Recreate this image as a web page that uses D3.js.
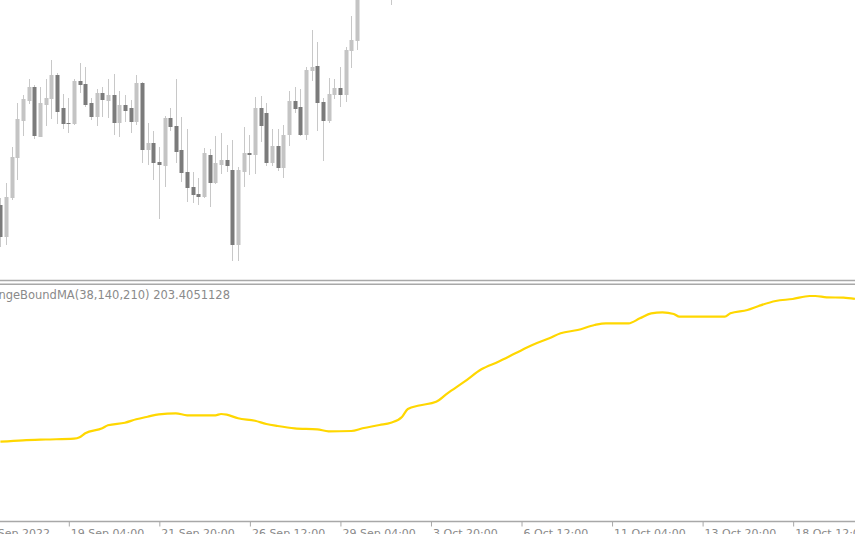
<!DOCTYPE html>
<html>
<head>
<meta charset="utf-8">
<script src="https://cdn.jsdelivr.net/npm/d3@7/dist/d3.min.js"></script>
<style>
  html, body { margin: 0; padding: 0; background: #fff; overflow: hidden; }
  svg { display: block; }
</style>
</head>
<body>
<svg id="chart" width="855" height="534"></svg>
<script>
// ---- data (H4 bars, index 0 = leftmost visible bar) ----
const opens  = [179.5,176.3,180.2,184.2,187.9,189.9,191.3,186.3,189.5,190.1,
                192.5,189.2,187.7,187.6,191.9,191.6,189.7,188.3,190.7,189.9,
                190.5,187.7,189.5,189.2,187.8,191.7,185.0,185.7,183.8,183.4,
                188.2,187.4,185.0,182.8,181.3,180.6,180.3,184.5,181.7,183.5,
                184.0,183.0,175.5,182.8,184.7,184.5,189.2,188.7,183.7,185.4,
                183.2,186.5,189.9,189.3,186.5,192.9,193.4,189.8,187.9,190.5,
                191.2,190.5,194.9,195.9,201.5,203.0,204.5,203.8,205.6,204.9];
const highs  = [180.2,181.7,185.3,189.7,190.5,192.1,191.5,191.3,192.1,194.0,
                192.7,190.6,190.2,192.1,193.7,193.3,190.2,191.1,191.3,192.1,
                192.6,190.9,190.5,190.0,192.5,191.8,187.7,186.9,185.3,188.4,
                189.2,192.1,188.3,187.1,182.8,182.2,185.2,185.1,186.4,186.7,
                185.5,186.0,183.3,187.3,186.5,190.3,190.4,189.7,187.1,187.1,
                187.5,190.9,191.3,191.1,193.3,197.0,195.8,190.2,192.2,192.1,
                193.3,195.3,198.4,203.0,203.8,205.2,205.6,206.3,206.8,205.5];
const lows   = [175.3,175.5,180.0,182.0,186.4,189.6,186.1,186.3,187.4,188.1,
                187.6,187.1,186.7,187.5,190.7,189.3,188.0,187.4,188.3,188.2,
                186.5,186.3,187.8,186.7,187.5,183.7,183.5,182.0,178.1,181.3,
                186.9,183.7,181.8,179.8,179.7,179.5,180.2,179.3,181.6,182.6,
                182.8,173.9,173.9,181.3,182.5,182.6,185.8,183.4,183.4,182.9,
                182.2,185.4,188.7,186.4,186.0,191.9,186.9,183.9,187.7,190.1,
                189.3,189.8,193.2,195.0,201.0,202.4,203.0,203.2,204.0,199.5];
const closes = [176.3,180.3,184.3,188.1,190.1,191.3,186.4,189.7,190.2,192.5,
                188.8,187.6,187.6,191.9,191.5,189.5,188.3,190.7,190.0,190.5,
                187.7,189.5,188.9,187.8,191.7,185.0,185.7,183.7,183.5,188.2,
                187.3,184.8,182.7,181.2,180.5,180.3,184.7,181.7,183.7,184.0,
                183.4,175.5,183.0,184.7,184.5,189.2,187.4,183.7,185.4,183.2,
                186.5,189.9,189.1,186.5,193.0,193.3,189.7,187.9,190.6,191.2,
                190.5,195.0,196.0,201.5,203.0,204.5,203.8,205.6,204.9,203.0];

// RangeBoundMA(38,140,210) values at bar indices
const maIndex = [0,4,8,13,14,15,18,19,22,24,26,28,31,33,38,39,40,42,45,47,
                 49,52,56,58,62,64,67,69,71,72,74,77,79,82,85,88,91,94,97,99,
                 102,105,107,111,113,115,117,119,120,124,128,129,132,134,137,140,143,144,146,149,151];
const maValue = [189.13,189.27,189.35,189.43,189.57,189.97,190.47,190.77,191.03,191.37,
                 191.63,191.87,191.97,191.77,191.77,191.90,191.83,191.47,191.23,190.90,
                 190.70,190.47,190.37,190.17,190.20,190.47,190.80,191.03,191.63,192.40,
                 192.75,193.13,193.97,195.13,196.37,197.13,197.97,198.80,199.47,199.97,
                 200.30,200.80,200.97,200.97,201.47,201.97,202.07,201.90,201.63,201.63,
                 201.63,201.97,202.30,202.70,203.20,203.40,203.70,203.70,203.57,203.53,203.41];
const maLabel = "RangeBoundMA(38,140,210) 203.4051128";

// time-axis labels (bar index of each label)
const tickIndex  = [-4, 12, 28, 44, 60, 76, 92, 108, 124, 140];
const tickLabels = ["14 Sep 2022","19 Sep 04:00","21 Sep 20:00","26 Sep 12:00","29 Sep 04:00",
                    "3 Oct 20:00","6 Oct 12:00","11 Oct 04:00","13 Oct 20:00","18 Oct 12:00"];

// ---- drawing ----
const W = 855, H = 534;
const svg = d3.select("#chart");
const barCount = 151;
const x = d3.scaleLinear().domain([0, barCount]).range([0.39, 0.39 + barCount * 5.659]);
const yTop = d3.scaleLinear().domain([172, 200]).range([280, 0]);
const yBot = d3.scaleLinear().domain([181.2, 204.8]).range([521, 285]);

const bars = opens.map((o, i) => ({ i, o, h: highs[i], l: lows[i], c: closes[i] }));

svg.append("clipPath").attr("id", "topClip")
  .append("rect").attr("x", 0).attr("y", 0).attr("width", W).attr("height", 279.5);
svg.append("clipPath").attr("id", "botClip")
  .append("rect").attr("x", 0).attr("y", 286).attr("width", W).attr("height", 235);

const priceG = svg.append("g").attr("clip-path", "url(#topClip)");
const bullCol = "#c4c4c4", bearCol = "#7b7b7b", wickCol = "#c8c8c8";
const bw = 4;

priceG.selectAll("line.wick").data(bars).join("line")
  .attr("class", "wick")
  .attr("x1", d => Math.round(x(d.i)) + 0.5)
  .attr("x2", d => Math.round(x(d.i)) + 0.5)
  .attr("y1", d => yTop(d.h))
  .attr("y2", d => yTop(d.l))
  .attr("stroke", wickCol)
  .attr("stroke-width", 1);

priceG.selectAll("rect.body").data(bars).join("rect")
  .attr("class", "body")
  .attr("x", d => Math.round(x(d.i)) + 0.5 - bw / 2)
  .attr("width", bw)
  .attr("y", d => yTop(Math.max(d.o, d.c)))
  .attr("height", d => Math.max(1, Math.abs(yTop(d.o) - yTop(d.c))))
  .attr("fill", d => d.c >= d.o ? bullCol : bearCol);

// separators
svg.append("line").attr("x1", 0).attr("x2", W).attr("y1", 280.5).attr("y2", 280.5)
  .attr("stroke", "#a8a8a8").attr("stroke-width", 1.4);
svg.append("line").attr("x1", 0).attr("x2", W).attr("y1", 284.2).attr("y2", 284.2)
  .attr("stroke", "#a8a8a8").attr("stroke-width", 1.4);

// indicator line
const maPts = maIndex.map((idx, k) => ({ i: idx, v: maValue[k] }));
svg.append("g").attr("clip-path", "url(#botClip)")
  .append("path")
  .datum(maPts)
  .attr("fill", "none")
  .attr("stroke", "#FFD700")
  .attr("stroke-width", 2.2)
  .attr("stroke-linejoin", "round")
  .attr("d", d3.line().x(d => x(d.i)).y(d => yBot(d.v)).curve(d3.curveMonotoneX));

// indicator label
svg.append("text")
  .attr("x", 230).attr("y", 298.5)
  .attr("text-anchor", "end")
  .attr("font-family", "DejaVu Sans, sans-serif")
  .attr("font-size", "11.5px")
  .attr("fill", "#8a8a8a")
  .text(maLabel);

// time axis
const axis = d3.axisBottom(x)
  .tickValues(tickIndex)
  .tickFormat((d, k) => tickLabels[k])
  .tickSizeInner(5)
  .tickSizeOuter(0);
const ax = svg.append("g").attr("transform", "translate(0,521.5)").call(axis);
ax.select(".domain").remove();
ax.append("line").attr("x1", 0).attr("x2", W).attr("y1", 0).attr("y2", 0)
  .attr("stroke", "#a8a8a8").attr("stroke-width", 1.5);
ax.selectAll(".tick line").attr("stroke", "#a8a8a8").attr("stroke-width", 1)
  .attr("transform", "translate(0.5,0)");
ax.selectAll(".tick text")
  .attr("text-anchor", "start")
  .attr("x", 2)
  .attr("y", 15)
  .attr("dy", 0)
  .attr("font-family", "DejaVu Sans, sans-serif")
  .attr("font-size", "11px")
  .attr("fill", "#8a8a8a");
</script>
</body>
</html>
